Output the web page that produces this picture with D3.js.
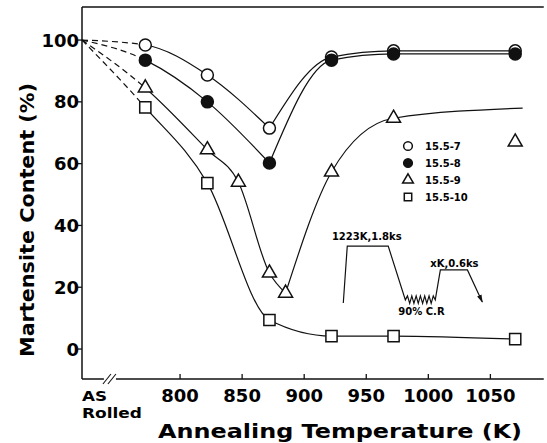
<!DOCTYPE html>
<html>
<head>
<meta charset="utf-8">
<script src="https://cdn.jsdelivr.net/npm/d3@7"></script>
<style>
  body { margin: 0; background: #fff; }
  svg { display: block; font-family: "DejaVu Sans", sans-serif; font-weight: bold; }
  .fit { fill: none; stroke: #111; stroke-width: 1.2; }
  .fit.dash { stroke-dasharray: 6,4; }
  .mark { stroke: #111; stroke-width: 1.5; }
  .inset { fill: none; stroke: #111; stroke-width: 1.2; }
</style>
</head>
<body>
<svg width="547" height="443"></svg>
<script>
// annealing temperatures (K) and martensite content (%) per alloy
var asRolled = 100;
var temps7  = [772, 822, 872, 922, 972, 1070],
    vals7   = [98.4, 88.7, 71.5, 94.5, 96.5, 96.5];
var temps8  = [772, 822, 872, 922, 972, 1070],
    vals8   = [93.5, 80, 60.2, 93.5, 95.5, 95.5];
var temps9  = [772, 822, 847, 872, 885, 922, 972, 1070],
    vals9   = [84.5, 64.5, 54, 24.6, 18.1, 57.3, 74.7, 67];
var temps10 = [772, 822, 872, 922, 972, 1070],
    vals10  = [78.2, 53.7, 9.4, 4.2, 4.2, 3.2];
// 15.5-9 fitted curve: last marker is off the curve, curve ends here instead
var tail9 = [1076, 78];

var names = ["15.5-7", "15.5-8", "15.5-9", "15.5-10"];
var yTicks = [0, 20, 40, 60, 80, 100],
    xTicks = [800, 850, 900, 950, 1000, 1050];

// heat treatment inset, drawn in data units
var cycleK = [931.5, 934.7, 967.7, 981.5, 983.2, 985.0, 986.7, 988.4, 990.2, 991.9, 993.6, 995.4, 997.1, 998.8, 1000.6, 1002.3, 1004.0, 1005.6, 1009.7, 1031.5, 1043.5],
    cycleV = [14.9, 33.3, 33.3, 15.9, 17.2, 14.8, 17.2, 14.8, 17.2, 14.8, 17.2, 14.8, 17.2, 14.8, 17.2, 14.8, 17.2, 15.9, 25.6, 25.6, 15.2];

var svg = d3.select("svg"),
    margin = {top: 7, right: 2, bottom: 64, left: 82},
    width = +svg.attr("width") - margin.left - margin.right,
    height = +svg.attr("height") - margin.top - margin.bottom;

var x = d3.scaleLinear().domain([721, 1094]).range([margin.left, margin.left + width]),
    y = d3.scaleLinear().domain([-9.7, 110.7]).range([margin.top + height, margin.top]);

var defs = svg.append("defs");
defs.append("clipPath").attr("id", "clipDash")
  .append("rect").attr("x", 0).attr("y", 0).attr("width", x(772)).attr("height", 443);
defs.append("clipPath").attr("id", "clipSolid")
  .append("rect").attr("x", x(772)).attr("y", 0).attr("width", 547).attr("height", 443);
defs.append("marker").attr("id", "arrow")
    .attr("viewBox", "0 0 10 6").attr("refX", 9).attr("refY", 3)
    .attr("markerWidth", 8).attr("markerHeight", 5).attr("markerUnits", "userSpaceOnUse")
    .attr("orient", "auto")
  .append("path").attr("d", "M0,0L10,3L0,6Z").attr("fill", "#111");

// frame: left axis, top line
svg.append("line").attr("x1", x(721)).attr("x2", x(721)).attr("y1", y(110.7)).attr("y2", y(-9.7))
    .attr("stroke", "#111").attr("stroke-width", 1.5);
svg.append("line").attr("x1", x(721)).attr("x2", x(1093)).attr("y1", y(110.7)).attr("y2", y(110.7))
    .attr("stroke", "#111").attr("stroke-width", 1.5);

// bottom axis with a break near the as-rolled position
var brk = 743.5;
svg.append("line").attr("x1", x(721)).attr("x2", x(brk) - 6).attr("y1", y(-9.7)).attr("y2", y(-9.7))
    .attr("stroke", "#111").attr("stroke-width", 1.5);
svg.append("line").attr("x1", x(brk) + 6).attr("x2", x(1093)).attr("y1", y(-9.7)).attr("y2", y(-9.7))
    .attr("stroke", "#111").attr("stroke-width", 1.5);
[-3, 2].forEach(function(o) {
  svg.append("line")
      .attr("x1", x(brk) + o - 4).attr("y1", y(-9.7) + 5)
      .attr("x2", x(brk) + o + 4).attr("y2", y(-9.7) - 5)
      .attr("stroke", "#111").attr("stroke-width", 1.1);
});

// y ticks
var yAx = svg.append("g");
yAx.selectAll("line").data(yTicks).enter().append("line")
    .attr("x1", x(721) - 4).attr("x2", x(721))
    .attr("y1", function(d) { return y(d); }).attr("y2", function(d) { return y(d); })
    .attr("stroke", "#111").attr("stroke-width", 1.3);
yAx.selectAll("text").data(yTicks).enter().append("text")
    .attr("x", x(721) - 3).attr("y", function(d) { return y(d); })
    .attr("dy", "0.36em").attr("text-anchor", "end")
    .style("font-size", "18px").text(function(d) { return d; });

// x ticks (inward)
var xAx = svg.append("g");
xAx.selectAll("line").data(xTicks).enter().append("line")
    .attr("x1", function(d) { return x(d); }).attr("x2", function(d) { return x(d); })
    .attr("y1", y(-9.7)).attr("y2", y(-9.7) - 5)
    .attr("stroke", "#111").attr("stroke-width", 1.3);
xAx.selectAll("text").data(xTicks).enter().append("text")
    .attr("x", function(d) { return x(d); }).attr("y", 402)
    .attr("text-anchor", "middle")
    .style("font-size", "18px").text(function(d) { return d; });

svg.append("text").attr("x", x(721)).attr("y", 401)
    .attr("textLength", 25).attr("lengthAdjust", "spacingAndGlyphs")
    .style("font-size", "14px").text("AS");
svg.append("text").attr("x", x(721)).attr("y", 418)
    .attr("textLength", 60).attr("lengthAdjust", "spacingAndGlyphs")
    .style("font-size", "14px").text("Rolled");

// axis titles
svg.append("text")
    .attr("x", 340).attr("y", 438).attr("text-anchor", "middle")
    .attr("textLength", 364).attr("lengthAdjust", "spacingAndGlyphs")
    .style("font-size", "20px").text("Annealing Temperature (K)");
svg.append("text")
    .attr("transform", "translate(34,220) rotate(-90)").attr("text-anchor", "middle")
    .attr("textLength", 274).attr("lengthAdjust", "spacingAndGlyphs")
    .style("font-size", "20px").text("Martensite Content (%)");

// fitted curves
var line = d3.line()
    .x(function(d) { return x(d[0]); })
    .y(function(d) { return y(d[1]); })
    .curve(d3.curveMonotoneX);

function zip(t, v) { return t.map(function(d, i) { return [d, v[i]]; }); }

var curves = [
  [[721, asRolled]].concat(zip(temps7, vals7)),
  [[721, asRolled]].concat(zip(temps8, vals8)),
  [[721, asRolled]].concat(zip(temps9, vals9).slice(0, 7), [tail9]),
  [[721, asRolled]].concat(zip(temps10, vals10))
];

var curveGroup = svg.append("g");
curves.forEach(function(pts) {
  var m = d3.minIndex(pts, function(d) { return d[1]; });
  var down = pts.slice(0, m + 1), up = pts.slice(m);
  curveGroup.append("path").attr("class", "fit dash").attr("clip-path", "url(#clipDash)").attr("d", line(down));
  curveGroup.append("path").attr("class", "fit").attr("clip-path", "url(#clipSolid)").attr("d", line(down));
  if (up.length > 1) curveGroup.append("path").attr("class", "fit").attr("d", line(up));
});

// markers
var shapes = [d3.symbolCircle, d3.symbolCircle, d3.symbolTriangle, d3.symbolSquare],
    sizes  = [113, 113, 85, 125],
    fills  = ["#fff", "#111", "#fff", "#fff"];
var series = [zip(temps7, vals7), zip(temps8, vals8), zip(temps9, vals9), zip(temps10, vals10)];

series.forEach(function(pts, i) {
  svg.append("g").selectAll("path").data(pts).enter().append("path")
      .attr("class", "mark")
      .attr("transform", function(d) { return "translate(" + x(d[0]) + "," + y(d[1]) + ")"; })
      .attr("d", d3.symbol().type(shapes[i]).size(sizes[i]))
      .attr("fill", fills[i]);
});

// legend
var legend = svg.append("g").selectAll("g").data(names).enter().append("g")
    .attr("transform", function(d, i) { return "translate(408," + [146, 163, 180, 197][i] + ")"; });
legend.append("path")
    .attr("class", "mark")
    .attr("d", function(d, i) { return d3.symbol().type(shapes[i]).size([60, 60, 50, 55][i])(); })
    .attr("fill", function(d, i) { return fills[i]; });
legend.append("text")
    .attr("x", 17).attr("dy", "0.36em")
    .style("font-size", "10px").text(function(d) { return d; });

// heat treatment inset
svg.append("path").attr("class", "inset")
    .attr("d", d3.line().x(function(d) { return x(d); }).y(function(d, i) { return y(cycleV[i]); })(cycleK))
    .attr("marker-end", "url(#arrow)");
svg.append("text").attr("x", x(950.4)).attr("y", y(35.3)).attr("text-anchor", "middle")
    .style("font-size", "10px").text("1223K,1.8ks");
svg.append("text").attr("x", x(1021)).attr("y", y(26.5)).attr("text-anchor", "middle")
    .style("font-size", "10px").text("xK,0.6ks");
svg.append("text").attr("x", x(994.5)).attr("y", y(11.0)).attr("text-anchor", "middle")
    .style("font-size", "10px").text("90% C.R");
</script>
</body>
</html>
